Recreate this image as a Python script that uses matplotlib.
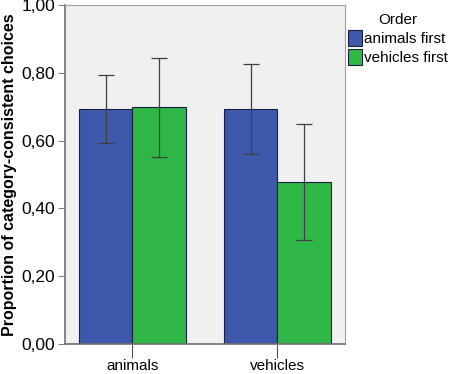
import numpy as np
import matplotlib
matplotlib.use("Agg")
import matplotlib.pyplot as plt

plt.rcParams['font.family'] = ['Liberation Sans', 'DejaVu Sans']

# data
categories = ["animals", "vehicles"]
orders = ["animals first", "vehicles first"]
means_animals_first = [0.692, 0.693]
means_vehicles_first = [0.698, 0.478]
ci_low_animals_first = [0.593, 0.559]
ci_high_animals_first = [0.794, 0.827]
ci_low_vehicles_first = [0.553, 0.307]
ci_high_vehicles_first = [0.843, 0.649]
yticks = [0.0, 0.2, 0.4, 0.6, 0.8, 1.0]

colors = ["#3e58ac", "#2fb847"]

fig = plt.figure(figsize=(4.54, 3.74), dpi=100)
ax = fig.add_axes([65 / 454, 30 / 374, 280 / 454, 339 / 374])
ax.set_facecolor("#f0f0f0")

x = np.arange(len(categories))
w = 0.368
series = [
    (means_animals_first, ci_low_animals_first, ci_high_animals_first),
    (means_vehicles_first, ci_low_vehicles_first, ci_high_vehicles_first),
]
for i, (m, lo, hi) in enumerate(series):
    m = np.array(m)
    pos = x + (i - 0.5) * w
    ax.bar(pos, m, width=w, color=colors[i], edgecolor="#1c2040", linewidth=0.8,
           label=orders[i], zorder=2)
    yerr = [m - np.array(lo), np.array(hi) - m]
    ax.errorbar(pos, m, yerr=yerr, fmt="none", ecolor="#404040", elinewidth=0.9,
                capsize=6, capthick=0.9, zorder=3)

ax.set_xlim(-0.465, 1.467)
ax.set_ylim(0, 1.0)
ax.set_yticks(yticks)
ax.set_yticklabels([("%.2f" % v).replace(".", ",") for v in yticks], fontsize=12.5)
ax.set_xticks(x)
ax.set_xticklabels(categories, fontsize=11)
ax.tick_params(axis="x", length=10, width=0.8, color="#505050", pad=1)
ax.tick_params(axis="y", length=5, width=0.8, color="#808080", pad=2)
for s in ["top", "right"]:
    ax.spines[s].set_color("#a0a0a0")
for s in ["left", "bottom"]:
    ax.spines[s].set_color("#707070")
    ax.spines[s].set_linewidth(1.2)

ax.set_ylabel("Proportion of category-consistent choices", fontsize=11.5, fontweight="bold", labelpad=3)

leg = ax.legend(loc="upper left", bbox_to_anchor=(1.0, 0.985), frameon=False, title="Order",
                fontsize=11, title_fontsize=11, handlelength=0.9, handleheight=1.2,
                handletextpad=0.15, borderaxespad=0, labelspacing=0.2, borderpad=0.2)

fig.savefig("out.png", dpi=100)
